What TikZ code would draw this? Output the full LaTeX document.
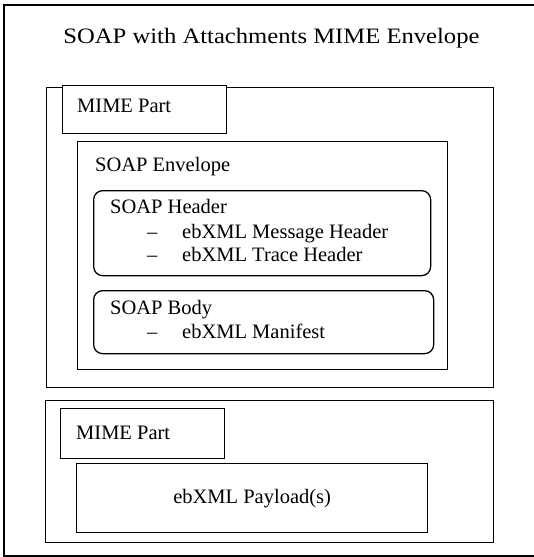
\documentclass[tikz,border=0pt]{standalone}
\usepackage{fontspec}
\setmainfont{Liberation Serif}
\newfontfamily\titlefont[FakeStretch=1.12]{Liberation Serif}
\begin{document}
\begin{tikzpicture}[x=1pt,y=-1pt,
  box/.style={draw, line width=1.3pt, rectangle, inner sep=0pt, anchor=north west},
  rbox/.style={box, rounded corners=9pt},
  lbl/.style={inner sep=0pt, anchor=base west, font=\fontsize{20.5pt}{22pt}\selectfont},
  ttl/.style={inner sep=0pt, anchor=base, font=\titlefont\fontsize{22pt}{24pt}\selectfont}]
\useasboundingbox (0,0) rectangle (533,557);
% outer envelope (right side beyond the picture)
\draw[line width=1.3pt] (545,5) -- (4,5) -- (4,556) -- (545,556);
\node[ttl] (title) at (271.5,43.5) {SOAP with Attachments MIME Envelope};
% first MIME part
\node[box, minimum width=447pt, minimum height=300pt] (m1) at (46,87) {};
\node[box, fill=white, minimum width=164pt, minimum height=48pt] (mp1) at (62,85) {};
\node[lbl] (mp1t) at (77,112) {MIME Part};
\node[box, minimum width=370pt, minimum height=228pt] (env) at (77,141) {};
\node[lbl] (envt) at (95,171) {SOAP Envelope};
\node[rbox, minimum width=337pt, minimum height=85pt] (hdr) at (93,190) {};
\node[lbl] (hdrt) at (110,213) {SOAP Header};
\node[lbl] (d1) at (147,238) {--};
\node[lbl] (h1) at (182,238) {ebXML Message Header};
\node[lbl] (d2) at (147,261) {--};
\node[lbl] (h2) at (182,261) {ebXML Trace Header};
\node[rbox, minimum width=340pt, minimum height=63pt] (body) at (93,290) {};
\node[lbl] (bodyt) at (110,314) {SOAP Body};
\node[lbl] (d3) at (147,338) {--};
\node[lbl] (b1) at (182,338) {ebXML Manifest};
% second MIME part
\node[box, minimum width=448pt, minimum height=142pt] (m2) at (45,400) {};
\node[box, minimum width=164pt, minimum height=50pt] (mp2) at (60,408) {};
\node[lbl] (mp2t) at (76,439) {MIME Part};
\node[box, minimum width=351pt, minimum height=69pt,
      font=\fontsize{20.5pt}{22pt}\selectfont] (pay) at (76,463) {ebXML Payload(s)};
\end{tikzpicture}
\end{document}
